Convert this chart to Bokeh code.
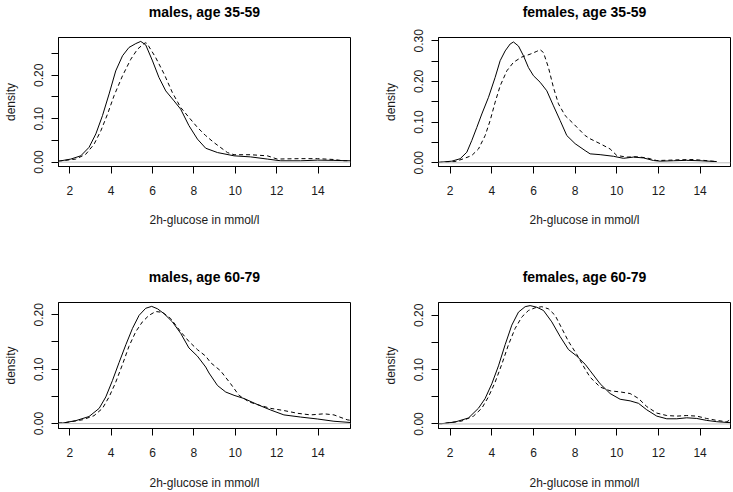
from bokeh.plotting import figure
from bokeh.layouts import column, row
from bokeh.models import Range1d, FixedTicker, Span, LinearAxis
from bokeh.embed import file_html
from bokeh.resources import INLINE

FONT = "Liberation Sans"

# ---- data ----
titles = ["males, age 35-59", "females, age 35-59", "males, age 60-79", "females, age 60-79"]
x_label = "2h-glucose in mmol/l"
y_label = "density"
x_ticks = [2, 4, 6, 8, 10, 12, 14]

# males, age 35-59
m1_solid_x = [1.45, 2.05, 2.53, 2.93, 3.26, 3.58, 3.9, 4.22, 4.55, 4.86, 5.19, 5.43, 5.67, 6.0, 6.31, 6.64,
              7.04, 7.36, 7.76, 8.17, 8.57, 9.14, 9.94, 10.74, 11.55, 12.2, 13.16, 13.97, 14.77, 15.57]
m1_solid_y = [0.002, 0.007, 0.0145, 0.034, 0.065, 0.107, 0.157, 0.21, 0.245, 0.264, 0.273, 0.278, 0.27, 0.233,
              0.195, 0.164, 0.141, 0.122, 0.084, 0.053, 0.032, 0.022, 0.0145, 0.012, 0.007, 0.003, 0.003, 0.0046,
              0.004, 0.003]
m1_dash_x = [1.45, 2.29, 2.77, 3.17, 3.5, 3.82, 4.14, 4.55, 4.95, 5.27, 5.59, 5.68, 5.75, 6.15, 6.56, 6.96, 7.36,
             7.76, 8.17, 8.57, 8.97, 9.62, 9.94, 10.74, 11.55, 12.03, 12.5, 13.16, 13.97, 14.77, 15.25, 15.57]
m1_dash_y = [0.002, 0.007, 0.018, 0.041, 0.072, 0.11, 0.153, 0.199, 0.237, 0.26, 0.273, 0.275, 0.272, 0.241, 0.203,
             0.16, 0.126, 0.103, 0.08, 0.061, 0.045, 0.022, 0.017, 0.017, 0.0145, 0.007, 0.0075, 0.008, 0.008,
             0.006, 0.003, 0.003]

# females, age 35-59
f1_solid_x = [1.44, 2.08, 2.48, 2.8, 3.04, 3.28, 3.52, 3.84, 4.16, 4.4, 4.64, 4.88, 5.04, 5.28, 5.52, 5.76, 6.0,
              6.32, 6.64, 6.96, 7.28, 7.6, 8.0, 8.48, 8.72, 9.2, 9.84, 10.32, 10.8, 11.28, 11.76, 12.08, 12.72,
              13.36, 14.0, 14.8]
f1_solid_y = [0.001, 0.004, 0.01, 0.026, 0.055, 0.087, 0.12, 0.161, 0.21, 0.251, 0.275, 0.292, 0.297, 0.287, 0.263,
              0.234, 0.214, 0.198, 0.177, 0.14, 0.104, 0.067, 0.047, 0.03, 0.022, 0.02, 0.016, 0.011, 0.014, 0.012,
              0.0056, 0.004, 0.005, 0.006, 0.005, 0.003]
f1_dash_x = [1.44, 2.24, 2.64, 3.04, 3.36, 3.68, 3.92, 4.16, 4.4, 4.72, 5.04, 5.44, 5.84, 6.16, 6.32, 6.48, 6.72,
             6.96, 7.2, 7.52, 7.92, 8.48, 8.72, 9.2, 9.68, 10.0, 10.48, 10.96, 11.44, 11.92, 12.56, 13.04, 13.68,
             14.16, 14.8]
f1_dash_y = [0.001, 0.003, 0.01, 0.018, 0.034, 0.067, 0.104, 0.149, 0.189, 0.226, 0.247, 0.26, 0.267, 0.274, 0.278,
             0.271, 0.234, 0.185, 0.145, 0.116, 0.096, 0.067, 0.059, 0.047, 0.034, 0.018, 0.014, 0.015, 0.012,
             0.0055, 0.0065, 0.0075, 0.008, 0.006, 0.003]

# males, age 60-79
m2_solid_x = [1.45, 1.65, 2.29, 2.93, 3.42, 3.74, 4.06, 4.38, 4.71, 5.03, 5.35, 5.67, 5.96, 6.24, 6.56, 6.96, 7.36,
              7.76, 8.17, 8.57, 8.73, 9.14, 9.54, 9.94, 10.43, 11.07, 11.71, 12.35, 13.16, 13.97, 14.77, 15.57]
m2_solid_y = [0.001, 0.001, 0.0054, 0.013, 0.028, 0.049, 0.079, 0.112, 0.145, 0.175, 0.199, 0.212, 0.2155, 0.211,
              0.202, 0.187, 0.166, 0.139, 0.124, 0.104, 0.093, 0.07, 0.058, 0.052, 0.046, 0.035, 0.025, 0.016, 0.012,
              0.0085, 0.0043, 0.002]
m2_dash_x = [1.45, 1.65, 2.61, 3.17, 3.58, 3.9, 4.22, 4.55, 4.86, 5.19, 5.51, 5.83, 6.15, 6.48, 6.88, 7.36, 7.76,
             8.17, 8.57, 8.81, 9.29, 9.78, 10.18, 10.66, 11.15, 11.71, 12.35, 13.0, 13.64, 14.29, 14.77, 15.41, 15.57]
m2_dash_y = [0.001, 0.001, 0.007, 0.0145, 0.028, 0.049, 0.076, 0.109, 0.142, 0.169, 0.187, 0.199, 0.206, 0.2045,
             0.193, 0.169, 0.151, 0.136, 0.124, 0.112, 0.097, 0.073, 0.052, 0.04, 0.034, 0.028, 0.024, 0.019, 0.016,
             0.018, 0.016, 0.007, 0.006]

# females, age 60-79
f2_solid_x = [1.44, 1.6, 2.24, 2.88, 3.36, 3.68, 4.0, 4.32, 4.64, 4.96, 5.28, 5.6, 5.84, 6.16, 6.48, 6.88, 7.28,
              7.68, 8.08, 8.48, 8.72, 9.2, 9.68, 10.16, 10.64, 11.04, 11.44, 11.92, 12.4, 12.88, 13.36, 13.84, 14.32,
              14.8, 15.46]
f2_solid_y = [0.0005, 0.0005, 0.0036, 0.011, 0.029, 0.047, 0.074, 0.107, 0.146, 0.182, 0.206, 0.216, 0.218, 0.215,
              0.209, 0.188, 0.161, 0.137, 0.125, 0.11, 0.098, 0.074, 0.056, 0.0455, 0.0425, 0.038, 0.026, 0.0144,
              0.0095, 0.0095, 0.0113, 0.0101, 0.0065, 0.0041, 0.0023]
f2_dash_x = [1.44, 1.6, 2.56, 3.12, 3.52, 3.84, 4.16, 4.48, 4.8, 5.12, 5.44, 5.76, 6.08, 6.4, 6.72, 7.04, 7.36,
             7.68, 8.08, 8.48, 8.72, 9.2, 9.68, 10.16, 10.64, 11.04, 11.44, 11.92, 12.4, 12.88, 13.36, 13.84, 14.32,
             14.8, 15.28, 15.46]
f2_dash_y = [0.0005, 0.0005, 0.0054, 0.0144, 0.029, 0.05, 0.077, 0.11, 0.146, 0.176, 0.197, 0.209, 0.214, 0.216,
             0.212, 0.2, 0.176, 0.152, 0.128, 0.101, 0.086, 0.068, 0.061, 0.059, 0.056, 0.047, 0.032, 0.02, 0.0155,
             0.0144, 0.0155, 0.0144, 0.01, 0.0065, 0.004, 0.008]

y_ticks_a = [0, 0.05, 0.1, 0.15, 0.2, 0.25]
y_ticks_b = [0, 0.05, 0.1, 0.15, 0.2, 0.25, 0.3]
y_ticks_c = [0, 0.05, 0.1, 0.15, 0.2]
y_tick_text = {0: "0.00", 0.05: "", 0.1: "0.10", 0.15: "", 0.2: "0.20", 0.25: "", 0.3: "0.30"}

x_range_left = (1.454, 15.57)
x_range_right = (1.44, 15.46)
y_ranges = [(-0.0101, 0.287), (-0.0091, 0.308), (-0.009, 0.2226), (-0.0084, 0.2237)]

TXT = "#1a1a1a"


def panel(title, sx, sy, dx, dy, xr, yr, yt, w, h, bl, br, bt, bb, xls):
    p = figure(width=w, height=h, x_range=Range1d(*xr), y_range=Range1d(*yr),
               output_backend="svg", toolbar_location=None, title=title,
               min_border_left=bl, min_border_right=br, min_border_top=bt, min_border_bottom=bb)
    # invisible spacer between frame and title (R's top margin)
    spacer = LinearAxis(ticker=FixedTicker(ticks=[8], minor_ticks=[]), major_label_overrides={8: ""},
                        axis_line_color=None, major_tick_line_color=None, minor_tick_line_color=None,
                        major_tick_in=0, major_tick_out=17, minor_tick_out=0,
                        major_label_standoff=0, major_label_text_font_size="0px")
    p.add_layout(spacer, "above")
    p.title.text_font = FONT
    p.title.text_font_size = "14px"
    p.title.text_font_style = "bold"
    p.title.text_color = "black"
    p.title.align = "center"
    p.title.standoff = 2

    p.xgrid.visible = False
    p.ygrid.visible = False
    p.outline_line_color = "black"
    p.outline_line_width = 1
    p.outline_line_alpha = 1
    p.background_fill_color = "white"
    p.border_fill_color = "white"

    p.add_layout(Span(location=0, dimension="width", line_color="#BEBEBE", line_width=1))
    p.line(sx, sy, line_color="black", line_width=1)
    p.line(dx, dy, line_color="black", line_width=1, line_dash="4 3")

    xax = p.below[0]
    yax = p.left[0]
    for ax in (xax, yax):
        ax.major_tick_in = 0
        ax.major_tick_out = 7
        ax.minor_tick_line_color = None
        ax.axis_line_color = "black"
        ax.major_tick_line_color = "black"
        ax.major_label_text_font = FONT
        ax.major_label_text_font_size = "12px"
        ax.major_label_text_color = TXT
        ax.axis_label_text_font = FONT
        ax.axis_label_text_font_size = "12px"
        ax.axis_label_text_font_style = "normal"
        ax.axis_label_text_color = TXT

    xax.ticker = FixedTicker(ticks=x_ticks, minor_ticks=[])
    xax.axis_label = x_label
    xax.major_label_standoff = 12
    xax.axis_label_standoff = xls

    yax.ticker = FixedTicker(ticks=yt, minor_ticks=[])
    yax.major_label_overrides = {k: y_tick_text[k] for k in yt}
    yax.major_label_orientation = "vertical"
    yax.axis_label = y_label
    yax.major_label_standoff = 8
    yax.axis_label_standoff = 14
    return p


W1, W2 = 366, 367
H1, H2 = 246, 246

p1 = panel(titles[0], m1_solid_x, m1_solid_y, m1_dash_x, m1_dash_y, x_range_left, y_ranges[0], y_ticks_a,
           W1, H1, 58, 16, 37, 80, 15)
p2 = panel(titles[1], f1_solid_x, f1_solid_y, f1_dash_x, f1_dash_y, x_range_right, y_ranges[1], y_ticks_b,
           W2, H1, 72, 3, 37, 80, 15)
p3 = panel(titles[2], m2_solid_x, m2_solid_y, m2_dash_x, m2_dash_y, x_range_left, y_ranges[2], y_ticks_c,
           W1, H2, 58, 16, 56, 61, 16)
p4 = panel(titles[3], f2_solid_x, f2_solid_y, f2_dash_x, f2_dash_y, x_range_right, y_ranges[3], y_ticks_c,
           W2, H2, 72, 3, 56, 61, 16)

layout = column(row(p1, p2, spacing=0), row(p3, p4, spacing=0), spacing=0)

open("out.html", "w").write(file_html(layout, INLINE))
